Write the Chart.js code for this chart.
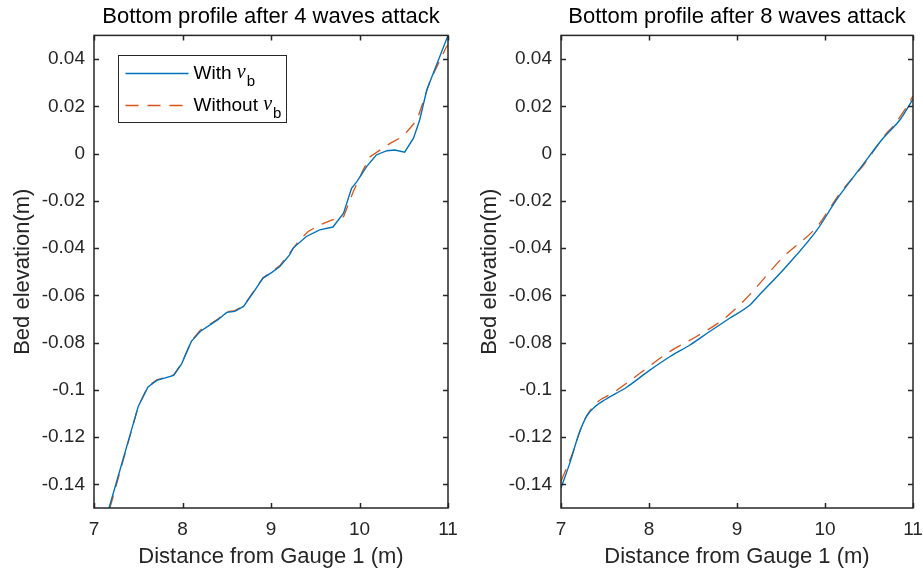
<!DOCTYPE html>
<html>
<head>
<meta charset="utf-8">
<script src="https://cdn.jsdelivr.net/npm/chart.js"></script>
<style>
  html, body { margin: 0; padding: 0; background: #fff; }
  #wrap { position: relative; width: 923px; height: 571px; }
  canvas { position: absolute; top: 0; }
  #c1 { left: 0; }
  #c2 { left: 467px; }
</style>
</head>
<body>
<div id="wrap">
  <canvas id="c1" width="461" height="571"></canvas>
  <canvas id="c2" width="456" height="571"></canvas>
</div>
<script>
// panel titles
const titles = ["Bottom profile after 4 waves attack", "Bottom profile after 8 waves attack"]
const xLabel = "Distance from Gauge 1 (m)"
const yLabel = "Bed elevation(m)"
const seriesNames = ["With", "Without"]

const yTicks = [0.04, 0.02, 0, -0.02, -0.04, -0.06, -0.08, -0.1, -0.12, -0.14]

// after 4 waves
const x4With = [7.17, 7.5, 7.61, 7.71, 7.9, 7.99, 8.1, 8.2, 8.4, 8.5, 8.59, 8.69, 8.82, 8.91, 9.01, 9.1, 9.21, 9.25, 9.4, 9.55, 9.7, 9.82, 9.91, 9.97, 10.08, 10.19, 10.31, 10.4, 10.51, 10.61, 10.68, 10.76, 11]
const y4With = [-0.15, -0.107, -0.0988, -0.096, -0.0939, -0.089, -0.0795, -0.0753, -0.0703, -0.0672, -0.0668, -0.0647, -0.0577, -0.0527, -0.0503, -0.0478, -0.0429, -0.04, -0.0351, -0.0323, -0.0311, -0.0252, -0.0147, -0.0119, -0.0055, -0.0006, 0.0012, 0.0015, 0.0006, 0.0065, 0.0142, 0.0269, 0.05]
const x4Without = [7.18, 7.5, 7.61, 7.71, 7.9, 7.99, 8.1, 8.2, 8.31, 8.4, 8.5, 8.59, 8.69, 8.82, 8.91, 9.01, 9.1, 9.16, 9.31, 9.42, 9.55, 9.7, 9.82, 9.93, 10.04, 10.12, 10.35, 10.49, 10.57, 10.65, 10.8, 10.98, 11]
const y4Without = [-0.15, -0.107, -0.0985, -0.0958, -0.0937, -0.0888, -0.0793, -0.0748, -0.0723, -0.07, -0.067, -0.0665, -0.0645, -0.0575, -0.0525, -0.05, -0.0474, -0.0446, -0.0372, -0.033, -0.0302, -0.028, -0.0267, -0.0161, -0.007, -0.0013, 0.0044, 0.0072, 0.0107, 0.0142, 0.031, 0.045, 0.046]

// after 8 waves
const x8With = [7.0, 7.1, 7.2, 7.29, 7.39, 7.5, 7.75, 7.99, 8.24, 8.47, 8.69, 8.92, 9.15, 9.22, 9.56, 9.91, 10.13, 10.4, 10.66, 10.85, 11]
const y8With = [-0.1415, -0.131, -0.119, -0.1112, -0.107, -0.1042, -0.0988, -0.0922, -0.0859, -0.0809, -0.0753, -0.0696, -0.064, -0.0612, -0.0478, -0.0323, -0.0196, -0.0062, 0.0065, 0.0142, 0.023]
const x8Without = [7.0, 7.14, 7.25, 7.41, 7.59, 7.9, 8.24, 8.54, 8.84, 9.07, 9.15, 9.53, 9.91, 10.17, 10.44, 10.7, 10.77, 10.93, 11]
const y8Without = [-0.1387, -0.126, -0.114, -0.1053, -0.1013, -0.0929, -0.0837, -0.0774, -0.0703, -0.0626, -0.0595, -0.0436, -0.0309, -0.0168, -0.0048, 0.0086, 0.0114, 0.0199, 0.0244]

const FONT = "'Liberation Sans', Arial, Helvetica, sans-serif"
const INK = "#262626"
const BLUE = "#0072BD"
const ORANGE = "#D95319"

const pts = (xs, ys) => xs.map((x, i) => ({x: x, y: ys[i]}))

// box round the axes with ticks pointing inward
const framePlugin = {
	id: "frame",
	afterDatasetsDraw(chart) {
		const {ctx, chartArea: a, scales} = chart
		const tl = 5
		ctx.save()
		ctx.strokeStyle = INK
		ctx.lineWidth = 1.5
		ctx.beginPath()
		scales.x.ticks.forEach(t => {
			const px = Math.round(scales.x.getPixelForValue(t.value)) + 0.5
			ctx.moveTo(px, a.bottom); ctx.lineTo(px, a.bottom - tl)
			ctx.moveTo(px, a.top); ctx.lineTo(px, a.top + tl)
		})
		scales.y.ticks.forEach(t => {
			const py = Math.round(scales.y.getPixelForValue(t.value)) + 0.5
			ctx.moveTo(a.left, py); ctx.lineTo(a.left + tl, py)
			ctx.moveTo(a.right, py); ctx.lineTo(a.right - tl, py)
		})
		ctx.stroke()
		ctx.strokeRect(a.left, a.top, a.right - a.left, a.bottom - a.top)
		ctx.restore()
	}
}

// legend with the nu_b subscript
const nuLegend = {
	id: "nuLegend",
	afterDraw(chart) {
		if (!chart.options.plugins.nuLegend.show) return
		const {ctx, chartArea: a} = chart
		const bx = Math.round(a.left + 24) + 0.5, by = Math.round(a.top + 20) + 0.5
		const bw = 168, bh = 67
		ctx.save()
		ctx.fillStyle = "#fff"
		ctx.fillRect(bx, by, bw, bh)
		ctx.strokeStyle = INK
		ctx.lineWidth = 1
		ctx.strokeRect(bx, by, bw, bh)
		chart.data.datasets.forEach((ds, i) => {
			const ly = by + 18 + i * 32
			ctx.strokeStyle = ds.borderColor
			ctx.lineWidth = ds.borderWidth
			ctx.setLineDash(ds.borderDash || [])
			ctx.beginPath()
			ctx.moveTo(bx + 7, ly); ctx.lineTo(bx + 70, ly)
			ctx.stroke()
			ctx.setLineDash([])
			ctx.fillStyle = "#000"
			ctx.textBaseline = "middle"
			ctx.textAlign = "left"
			ctx.font = "19px " + FONT
			let tx = bx + 75
			ctx.fillText(ds.label + " ", tx, ly)
			tx += ctx.measureText(ds.label + " ").width
			ctx.font = "italic 20px 'Liberation Serif', 'DejaVu Serif', serif"
			ctx.fillText("\u03BD", tx, ly - 1)
			tx += ctx.measureText("\u03BD").width + 1
			ctx.font = "15px " + FONT
			ctx.fillText("b", tx, ly + 8)
		})
		ctx.restore()
	}
}

function makeChart(id, title, dWith, dWithout, showLegend, smooth) {
	const local = document.querySelector(id)
	let dados = {
		datasets: [
			{
				label: seriesNames[0],
				data: dWith,
				borderColor: BLUE,
				borderWidth: 1.4,
				pointRadius: 0,
				cubicInterpolationMode: smooth ? "monotone" : "default",
				tension: 0
			},
			{
				label: seriesNames[1],
				data: dWithout,
				borderColor: ORANGE,
				borderWidth: 1.3,
				borderDash: [13, 9],
				pointRadius: 0,
				cubicInterpolationMode: smooth ? "monotone" : "default",
				tension: 0
			}
		]
	}
	return new Chart(local, {
		type: "line",
		data: dados,
		plugins: [framePlugin, nuLegend],
		options: {
			responsive: false,
			animation: false,
			layout: { padding: { right: id === "#c1" ? 13 : 10 } },
			plugins: {
				legend: { display: false },
				tooltip: { enabled: false },
				nuLegend: { show: showLegend },
				title: {
					display: true,
					text: title,
					fullSize: false,
					color: "#000",
					font: { family: FONT, size: 22, weight: "normal", lineHeight: 1.2 },
					padding: { top: 4, bottom: 5 }
				}
			},
			scales: {
				x: {
					type: "linear",
					min: 7,
					max: 11,
					border: { display: false },
					grid: { display: false, tickLength: 0 },
					ticks: { stepSize: 1, color: INK, padding: 10, font: { family: FONT, size: 19 } },
					title: { display: true, text: xLabel, color: INK, font: { family: FONT, size: 22 }, padding: { top: 0, bottom: 1 } },
					afterFit: s => { s.height = 63; s.paddingLeft = 0; s.paddingRight = 0 }
				},
				y: {
					type: "linear",
					min: -0.15,
					max: 0.05,
					border: { display: false },
					grid: { display: false, tickLength: 0 },
					afterBuildTicks: s => { s.ticks = yTicks.map(v => ({value: v})) },
					ticks: {
						color: INK,
						padding: 9,
						font: { family: FONT, size: 19 },
						callback: v => String(Number(v.toFixed(2)))
					},
					title: { display: true, text: yLabel, color: INK, font: { family: FONT, size: 22 }, padding: { top: 10, bottom: 0 } },
					afterFit: s => { s.width = 94; s.paddingTop = 0; s.paddingBottom = 0 }
				}
			}
		}
	})
}

makeChart("#c1", titles[0], pts(x4With, y4With), pts(x4Without, y4Without), true, false)
makeChart("#c2", titles[1], pts(x8With, y8With), pts(x8Without, y8Without), false, true)
</script>
</body>
</html>
